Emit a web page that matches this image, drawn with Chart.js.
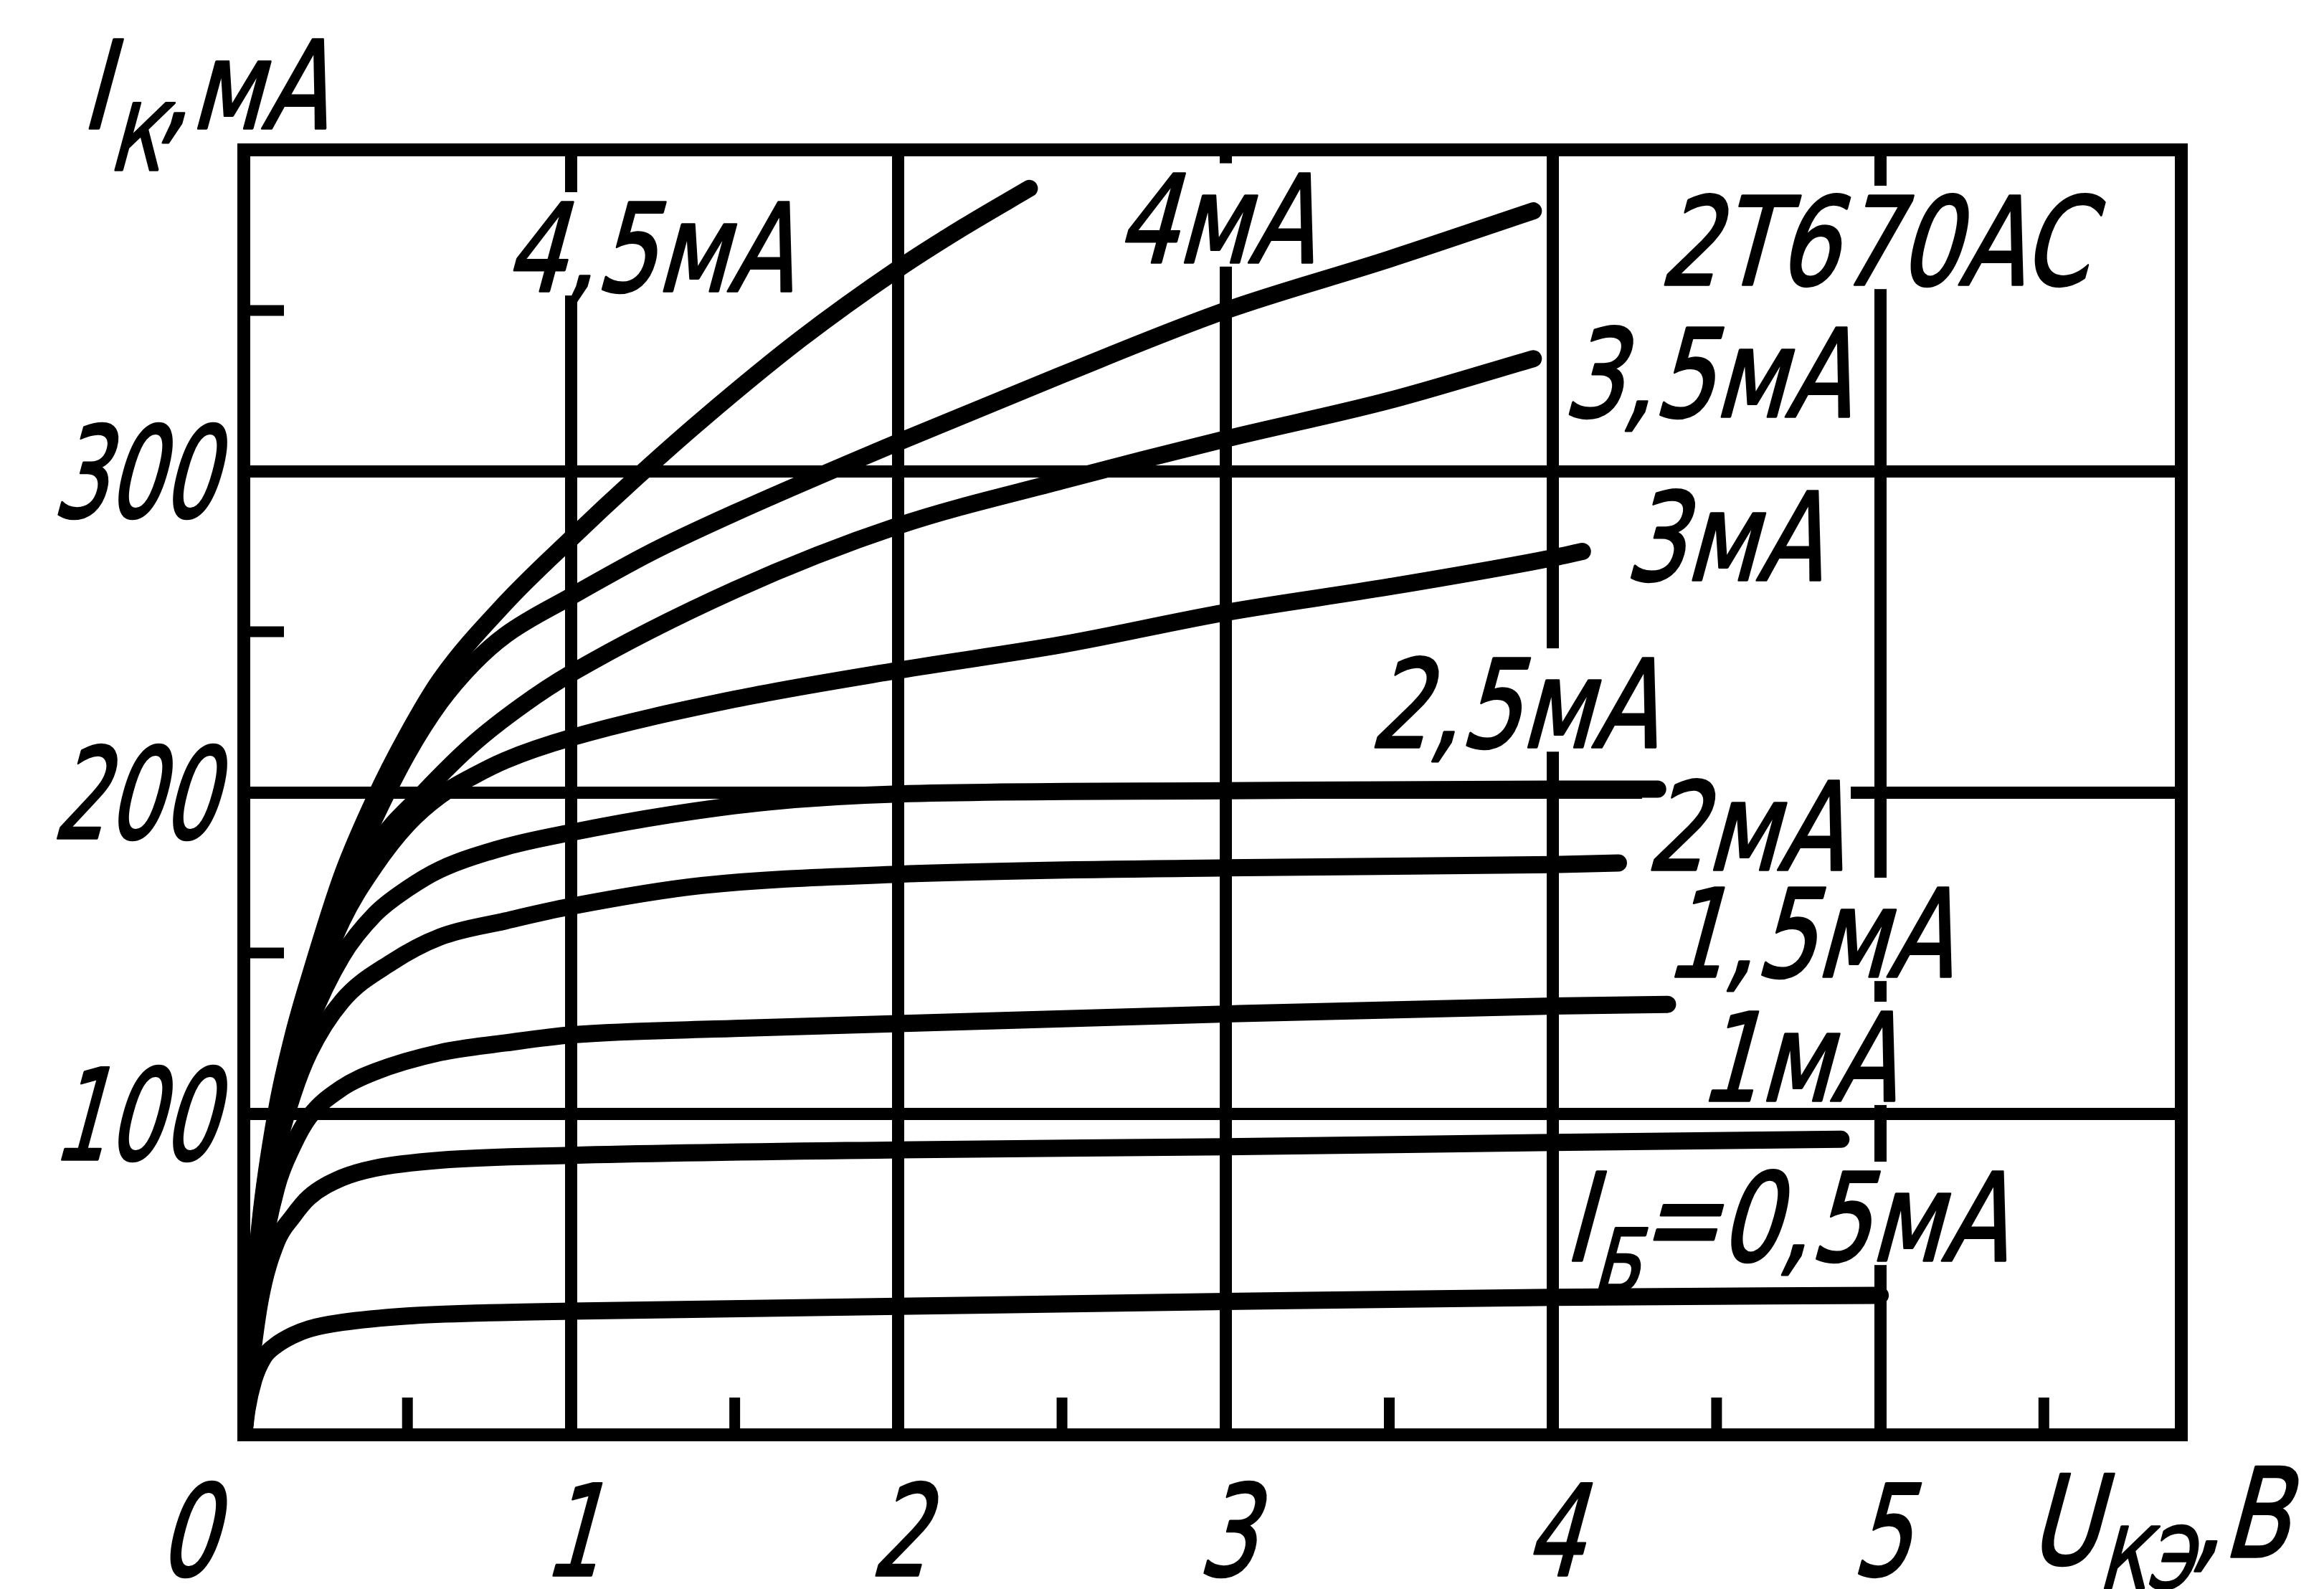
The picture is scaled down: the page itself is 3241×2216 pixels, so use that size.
<!DOCTYPE html>
<html>
<head>
<meta charset="utf-8">
<script src="https://cdn.jsdelivr.net/npm/chart.js@4.4.1/dist/chart.umd.min.js"></script>
<style>
html,body{margin:0;padding:0;background:#fff;}
#wrap{width:3241px;height:2216px;position:relative;}
</style>
</head>
<body>
<div id="wrap"><canvas id="c"></canvas></div>
<script>
// ---- axis ticks ----
const xTickValues = [0, 1, 2, 3, 4, 5];
const xTickLabels = ['0', '1', '2', '3', '4', '5'];
const yTickValues = [0, 100, 200, 300];
const yTickLabels = ['', '100', '200', '300'];
const xHalfTicks = [0.5, 1.5, 2.5, 3.5, 4.5, 5.5];
const yHalfTicks = [150, 250, 350];
const xMax = 5.92;
const yMax = 400;

// ---- series: U_KE (V) and I_K (mA) for each base current ----
const u05 = [0, 0.01, 0.03, 0.06, 0.1, 0.15, 0.2, 0.3, 0.5, 0.75, 1, 2, 3, 4, 5];
const i05 = [0, 8, 17, 24, 28, 31, 33, 35, 37, 38, 38.5, 40, 41.5, 42.8, 43.4];
const u10 = [0, 0.02, 0.05, 0.1, 0.15, 0.2, 0.3, 0.4, 0.6, 1, 2, 3, 4, 4.88];
const i10 = [0, 20, 42, 60, 68, 74, 80, 83, 85.5, 87, 88.7, 89.7, 91, 92];
const u15 = [0, 0.02, 0.05, 0.1, 0.15, 0.2, 0.3, 0.4, 0.6, 0.8, 1, 1.5, 2, 3, 4, 4.35];
const i15 = [0, 24, 52, 77, 90, 99, 108, 113, 119, 122, 124.5, 126.5, 128, 131, 133.5, 134];
const u20 = [0, 0.02, 0.05, 0.1, 0.15, 0.2, 0.3, 0.45, 0.6, 0.8, 1, 1.4, 2, 3, 4, 4.2];
const i20 = [0, 26, 58, 88, 106, 119, 135, 147, 155, 160, 164.5, 171, 174.5, 176.5, 177.5, 178];
const u25 = [0, 0.02, 0.05, 0.1, 0.15, 0.2, 0.3, 0.4, 0.5, 0.6, 0.8, 1, 1.3, 1.6, 2, 3, 4, 4.32];
const i25 = [0, 27, 61, 93, 113, 128, 149, 162, 170, 176, 183, 187.5, 193, 197, 199.5, 200.5, 201, 201];
const u30 = [0, 0.02, 0.05, 0.1, 0.15, 0.2, 0.3, 0.4, 0.5, 0.6, 0.7, 0.8, 1, 1.5, 2, 2.5, 3, 3.5, 4, 4.09];
const i30 = [0, 28, 63, 96, 117, 134, 160, 177, 190, 199, 205, 210, 217, 229, 238, 246, 256, 264, 273, 275];
const u35 = [0, 0.02, 0.05, 0.1, 0.15, 0.2, 0.3, 0.4, 0.55, 0.7, 0.85, 1, 1.5, 2, 2.5, 3, 3.5, 3.94];
const i35 = [0, 28, 64, 98, 120, 137, 164, 183, 200, 215, 227, 237, 263, 283, 297, 310, 322, 335];
const u40 = [0, 0.02, 0.05, 0.1, 0.15, 0.2, 0.3, 0.4, 0.5, 0.6, 0.7, 0.8, 1, 1.25, 1.5, 2, 2.5, 3, 3.5, 3.94];
const i40 = [0, 28, 65, 99, 121, 139, 169, 192, 212, 228, 240, 249, 261, 275, 287, 309, 330, 350, 366, 381];
const u45 = [0, 0.02, 0.05, 0.1, 0.15, 0.2, 0.3, 0.4, 0.5, 0.6, 0.8, 1, 1.2, 1.4, 1.7, 2, 2.2, 2.4];
const i45 = [0, 29, 66, 101, 124, 142, 174, 198, 218, 235, 259, 279, 298, 316, 341, 363, 376, 388];

const seriesNames = ['0,5мА', '1мА', '1,5мА', '2мА', '2,5мА', '3мА', '3,5мА', '4мА', '4,5мА'];
const seriesU = [u05, u10, u15, u20, u25, u30, u35, u40, u45];
const seriesI = [i05, i10, i15, i20, i25, i30, i35, i40, i45];

// ---- curve labels (text) and their anchors in data units ----
const labelTexts = ['4,5мА', '4мА', '2T670AC', '3,5мА', '3мА', '2,5мА', '2мА', '1,5мА', '1мА', 'I|Б|=0,5мА'];
const labelAnchorU = [0.795, 2.664, 4.321, 4.027, 4.216, 3.436, 4.281, 4.338, 4.443, 4.032];
const labelAnchorI = [356, 365, 358, 317, 266, 214, 176, 142.6, 104, 54.2];

const INK = '#000';
const FONT = '"DejaVu Sans", "Liberation Sans", sans-serif';
const SKEW = 0.27;

function runsFromText(t, size) {
  // 'A|sub|B' -> main, subscript, main
  const parts = t.split('|');
  return parts.map((p, k) => k % 2 === 1
    ? { t: p, size: size * 0.72, dy: size * 0.26 }
    : { t: p, size: size, dy: 0 });
}

function drawRuns(ctx, runs, x, y, sx, measureOnly) {
  let cx = x;
  for (const r of runs) {
    ctx.font = r.size + 'px ' + FONT;
    const w = ctx.measureText(r.t).width * sx;
    if (!measureOnly) {
      ctx.save();
      ctx.translate(cx, y + r.dy);
      ctx.transform(sx, 0, -SKEW, 1, 0, 0);
      ctx.fillStyle = INK;
      ctx.strokeStyle = INK;
      ctx.lineWidth = 3.5;
      ctx.lineJoin = 'round';
      ctx.textBaseline = 'alphabetic';
      ctx.textAlign = 'left';
      ctx.fillText(r.t, 0, 0);
      ctx.strokeText(r.t, 0, 0);
      ctx.restore();
    }
    cx += w;
  }
  return cx - x;
}

const LABEL_SIZE = 170;
const LABEL_SX = 0.78;

const annot = {
  id: 'annot',
  beforeDatasetsDraw(chart) {
    const { ctx, scales: { x, y } } = chart;
    ctx.save();
    // half-unit tick marks
    ctx.strokeStyle = INK;
    ctx.lineWidth = 15;
    ctx.lineCap = 'butt';
    const area = chart.chartArea;
    xHalfTicks.forEach(v => {
      const px = x.getPixelForValue(v);
      ctx.beginPath(); ctx.moveTo(px, area.bottom); ctx.lineTo(px, area.bottom - 52); ctx.stroke();
    });
    yHalfTicks.forEach(v => {
      const py = y.getPixelForValue(v);
      ctx.beginPath(); ctx.moveTo(area.left, py); ctx.lineTo(area.left + 56, py); ctx.stroke();
    });
    // white backing behind curve labels (interrupts grid lines)
    ctx.fillStyle = '#fff';
    labelTexts.forEach((t, k) => {
      const px = x.getPixelForValue(labelAnchorU[k]);
      const py = y.getPixelForValue(labelAnchorI[k]);
      const w = drawRuns(ctx, runsFromText(t, LABEL_SIZE), px, py, LABEL_SX, true);
      const cap = LABEL_SIZE * 0.73;
      ctx.fillRect(px - 4, py - cap - 14, w + 16, cap + 20);
    });
    ctx.restore();
  },
  afterDatasetsDraw(chart) {
    const { ctx, scales: { x, y } } = chart;
    const area = chart.chartArea;
    ctx.save();
    // curve labels
    labelTexts.forEach((t, k) => {
      const px = x.getPixelForValue(labelAnchorU[k]);
      const py = y.getPixelForValue(labelAnchorI[k]);
      drawRuns(ctx, runsFromText(t, LABEL_SIZE), px, py, LABEL_SX, false);
    });
    // x tick labels
    const tickSize = 176, tickSx = 0.72;
    xTickValues.forEach((v, k) => {
      const runs = [{ t: xTickLabels[k], size: tickSize, dy: 0 }];
      const w = drawRuns(ctx, runs, 0, 0, tickSx, true);
      const px = x.getPixelForValue(v);
      const left = v === 0 ? px - 40 - w : px - w / 2;
      drawRuns(ctx, runs, left, area.bottom + 196, tickSx, false);
    });
    // y tick labels
    yTickValues.forEach((v, k) => {
      if (!yTickLabels[k]) return;
      const runs = [{ t: yTickLabels[k], size: tickSize, dy: 0 }];
      const w = drawRuns(ctx, runs, 0, 0, 0.68, true);
      const py = y.getPixelForValue(v);
      drawRuns(ctx, runs, area.left - 40 - w, py + tickSize * 0.73 / 2, 0.68, false);
    });
    // axis titles
    drawRuns(ctx, [{ t: 'I', size: 170, dy: 0 }, { t: 'К', size: 128, dy: 58 }, { t: ',мА', size: 170, dy: 0 }],
      area.left - 228, area.top - 30, 0.78, false);
    drawRuns(ctx, [{ t: 'U', size: 172, dy: 0 }, { t: 'КЭ', size: 118, dy: 34 }, { t: ',B', size: 172, dy: -10 }],
      area.right - 214, area.bottom + 180, 0.78, false);
    ctx.restore();
  }
};

const datasets = seriesNames.map((name, k) => ({
  label: name,
  data: seriesU[k].map((u, j) => ({ x: u, y: seriesI[k][j] })),
  borderColor: INK,
  backgroundColor: INK,
  borderWidth: 24,
  pointRadius: 0,
  pointHoverRadius: 0,
  fill: false,
  cubicInterpolationMode: 'monotone',
  borderCapStyle: 'round',
  borderJoinStyle: 'round'
}));

const frameAxis = (pos, isX) => ({
  type: 'linear',
  position: pos,
  min: 0,
  max: isX ? xMax : yMax,
  grid: { display: false, drawTicks: false },
  border: { display: true, color: INK, width: 18 },
  ticks: { display: false }
});

new Chart(document.getElementById('c'), {
  type: 'line',
  data: { datasets },
  plugins: [annot],
  options: {
    responsive: true,
    maintainAspectRatio: false,
    devicePixelRatio: 1,
    animation: false,
    events: [],
    layout: { padding: { left: 340, top: 209, right: 199, bottom: 215 } },
    plugins: { legend: { display: false }, tooltip: { enabled: false }, title: { display: false } },
    scales: {
      x: {
        type: 'linear', position: 'bottom', min: 0, max: xMax,
        afterBuildTicks: s => { s.ticks = xTickValues.map(v => ({ value: v })); },
        grid: { color: INK, lineWidth: 17, drawTicks: false },
        border: { display: true, color: INK, width: 18 },
        ticks: { display: false }
      },
      y: {
        type: 'linear', position: 'left', min: 0, max: yMax,
        afterBuildTicks: s => { s.ticks = yTickValues.map(v => ({ value: v })); },
        grid: { color: INK, lineWidth: 17, drawTicks: false },
        border: { display: true, color: INK, width: 18 },
        ticks: { display: false }
      },
      x2: frameAxis('top', true),
      y2: frameAxis('right', false)
    }
  }
});
</script>
</body>
</html>
